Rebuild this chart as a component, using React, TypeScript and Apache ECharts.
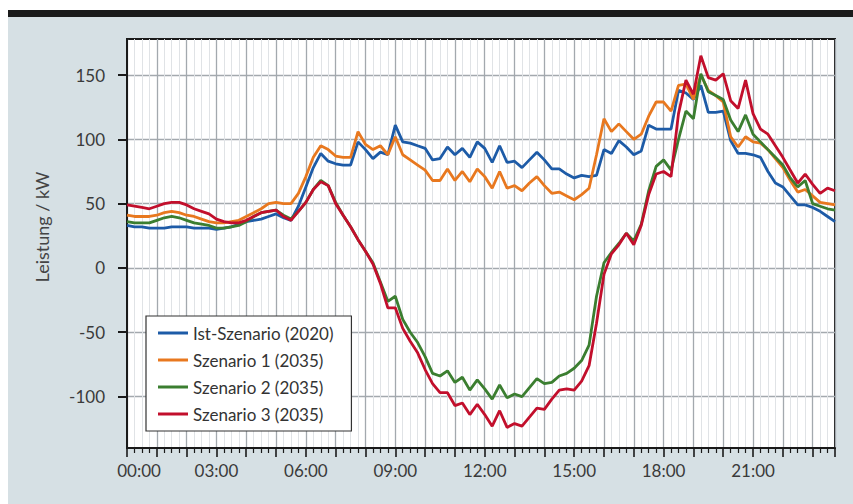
import React, { useEffect, useRef } from "react";
import * as echarts from "echarts";

const seriesNames = [
  "Ist-Szenario (2020)",
  "Szenario 1 (2035)",
  "Szenario 2 (2035)",
  "Szenario 3 (2035)",
];
const seriesColors = ["#1d5ba7", "#e8781f", "#3b7e30", "#c20f2c"];

const xTickLabels = ["00:00", "03:00", "06:00", "09:00", "12:00", "15:00", "18:00", "21:00"];
const yTickValues = [-100, -50, 0, 50, 100, 150];

// 15-minute values, 00:00 .. 23:45 (kW)
const istSzenario2020 = [
  33, 32, 32, 31, 31, 31, 32, 32, 32, 31, 31, 31, 30, 31, 32, 34,
  36, 37, 38, 40, 42, 39, 37, 48, 63, 78, 89, 83, 81, 80, 80, 98,
  92, 85, 90, 88, 111, 98, 97, 95, 93, 84, 85, 94, 88, 93, 86, 98,
  93, 82, 95, 82, 83, 78, 84, 90, 84, 77, 77, 73, 70, 72, 71, 72,
  92, 89, 99, 94, 88, 91, 111, 108, 108, 108, 138, 136, 131, 142, 121, 121,
  122, 99, 89, 89, 88, 86, 75, 66, 63, 56, 49, 49, 47, 44, 40, 36,
];
const szenario1 = [
  41, 40, 40, 40, 41, 43, 44, 43, 41, 40, 38, 36, 35, 35, 36, 37,
  40, 43, 46, 50, 51, 50, 50, 58, 71, 86, 95, 92, 87, 86, 86, 106,
  96, 92, 95, 88, 102, 88, 84, 80, 76, 68, 68, 77, 68, 75, 67, 77,
  71, 62, 75, 62, 64, 60, 66, 71, 64, 58, 59, 56, 53, 57, 62, 88,
  116, 106, 112, 106, 100, 104, 118, 129, 129, 122, 142, 143, 131, 150, 138, 134,
  129, 102, 94, 102, 98, 97, 92, 85, 78, 68, 59, 61, 56, 51, 50, 49,
];
const szenario2 = [
  36, 35, 35, 35, 37, 39, 40, 39, 37, 35, 34, 33, 31, 31, 32, 33,
  36, 40, 43, 44, 45, 41, 38, 44, 51, 61, 68, 64, 51, 41, 32, 22,
  13, 4, -11, -26, -22, -40, -50, -58, -69, -82, -84, -80, -89, -85, -95, -87,
  -94, -102, -91, -101, -98, -100, -93, -86, -90, -89, -84, -82, -78, -72, -60, -22,
  4, 12, 19, 27, 21, 34, 60, 79, 84, 76, 100, 122, 116, 151, 137, 134,
  131, 115, 106, 119, 104, 98, 92, 86, 80, 70, 63, 68, 50, 48, 46, 45,
];
const szenario3 = [
  49, 48, 47, 46, 48, 50, 51, 51, 49, 46, 44, 42, 38, 36, 35, 35,
  37, 40, 43, 44, 45, 40, 37, 44, 51, 61, 67, 64, 50, 41, 32, 22,
  13, 3, -12, -31, -31, -47, -57, -66, -79, -90, -97, -97, -107, -105, -114, -106,
  -114, -123, -111, -124, -121, -123, -116, -109, -110, -102, -95, -94, -95, -88, -76, -43,
  -5, 11, 18, 27, 18, 33, 57, 73, 75, 71, 120, 146, 135, 165, 148, 146,
  151, 130, 124, 146, 120, 108, 104, 95, 86, 76, 66, 73, 65, 58, 62, 60,
];

const seriesValues = [istSzenario2020, szenario1, szenario2, szenario3];
const STEP_MIN = 15;

const FONT = "Lato, 'Open Sans', sans-serif";

export default function App() {
  const ref = useRef<HTMLDivElement>(null);

  useEffect(() => {
    if (!ref.current) return;
    const chart = echarts.init(ref.current, undefined, { renderer: "svg" });
    const labelStyle = { fontSize: 17, color: "#3a3a3a", fontFamily: FONT };
    const option = {
      animation: false,
      backgroundColor: "transparent",
      textStyle: { fontFamily: FONT },
      grid: {
        left: 127,
        right: 18,
        top: 39,
        bottom: 56,
        show: true,
        backgroundColor: "#ffffff",
        borderColor: "#1a1a1a",
        borderWidth: 2,
      },
      legend: {
        data: seriesNames,
        orient: "vertical",
        left: 146,
        top: 316,
        icon: "rect",
        itemWidth: 30,
        itemHeight: 3,
        itemGap: 9,
        padding: [8, 18, 8, 12],
        backgroundColor: "#ffffff",
        borderColor: "#333333",
        borderWidth: 1.2,
        borderRadius: 0,
        textStyle: { fontSize: 17, color: "#333333", fontFamily: FONT, lineHeight: 18 },
      },
      graphic: [
        {
          type: "text",
          x: 42,
          y: 227,
          rotation: Math.PI / 2,
          style: {
            text: "Leistung / kW",
            fontSize: 18,
            fontFamily: FONT,
            fill: "#444444",
            align: "center",
            verticalAlign: "middle",
          },
        },
      ],
      xAxis: {
        type: "value",
        min: 0,
        max: 1425,
        interval: 60,
        axisLine: { show: true, onZero: false, lineStyle: { color: "#1a1a1a", width: 2 } },
        axisTick: { show: true, length: 9, lineStyle: { color: "#1a1a1a", width: 1.6 } },
        minorTick: { show: true, splitNumber: 4, length: 5, lineStyle: { color: "#1a1a1a", width: 1.2 } },
        splitLine: { show: true, lineStyle: { color: "#a3a9ae", width: 1.3 } },
        minorSplitLine: { show: true, lineStyle: { color: "#e0e3e6", width: 1 } },
        axisLabel: {
          margin: 14,
          ...labelStyle,
          rich: {
            first: { ...labelStyle, padding: [0, 0, 0, 24] },
          },
          formatter: (v: number) => {
            if (v % 180 !== 0 || v / 180 >= xTickLabels.length) return "";
            const t = xTickLabels[v / 180];
            return v === 0 ? `{first|${t}}` : t;
          },
        },
      },
      yAxis: {
        type: "value",
        min: -140,
        max: 178,
        axisLine: { show: true, onZero: false, lineStyle: { color: "#1a1a1a", width: 2 } },
        axisTick: { show: true, length: 9, customValues: yTickValues, lineStyle: { color: "#1a1a1a", width: 2 } },
        axisLabel: {
          customValues: yTickValues,
          margin: 22,
          ...labelStyle,
        },
        splitLine: { show: true, lineStyle: { color: "#a3a9ae", width: 1.3 } },
      },
      series: seriesNames.map((name, k) => ({
        name,
        type: "line",
        showSymbol: false,
        symbol: "none",
        color: seriesColors[k],
        lineStyle: { color: seriesColors[k], width: 2.8 },
        z: 2 + k,
        data: seriesValues[k].map((v, i) => [i * STEP_MIN, v]),
      })),
    };
    chart.setOption(option as any);
    return () => chart.dispose();
  }, []);

  return (
    <div style={{ position: "fixed", left: 0, top: 0, width: 853, height: 504, background: "#ffffff" }}>
      <div style={{ position: "absolute", left: 8, top: 17, width: 845, height: 487, background: "#d6e0e4" }} />
      <div style={{ position: "absolute", left: 8, top: 10, width: 845, height: 7, background: "#1b1b1b" }} />
      <div ref={ref} style={{ position: "absolute", left: 0, top: 0, width: 853, height: 504 }} />
    </div>
  );
}
